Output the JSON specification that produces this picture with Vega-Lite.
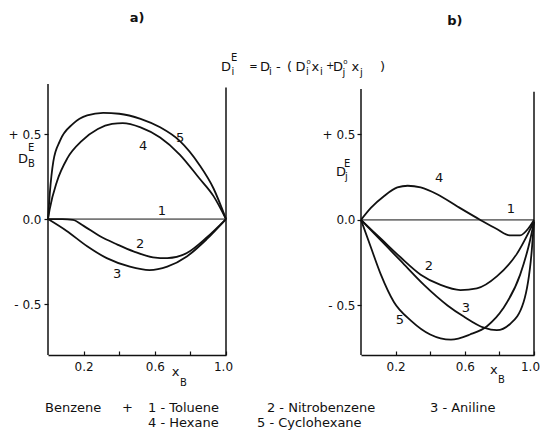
{
  "$schema": "https://vega.github.io/schema/vega-lite/v6.json",
  "background": "white",
  "padding": {"left": 8, "top": 12, "right": 0, "bottom": 0},
  "bounds": "flush",
  "spacing": 135,
  "config": {
    "view": {"stroke": null},
    "font": "DejaVu Sans",
    "axis": {"labelFont": "DejaVu Sans", "labelFontSize": 12, "labelColor": "#111", "tickColor": "#111", "domainColor": "#111", "domainWidth": 1.5, "tickWidth": 1.2, "grid": false, "title": null, "labelFlush": false, "labelOverlap": false}
  },
  "datasets": {
    "one": [{}],
    "curvesA": [
      {"curve": "1", "x": 0, "y": 0}, {"curve": "1", "x": 1, "y": 0},
      {"curve": "2", "x": 0, "y": 0}, {"curve": "2", "x": 0.08, "y": 0}, {"curve": "2", "x": 0.14, "y": -0.005}, {"curve": "2", "x": 0.2, "y": -0.04}, {"curve": "2", "x": 0.29, "y": -0.1}, {"curve": "2", "x": 0.39, "y": -0.15}, {"curve": "2", "x": 0.48, "y": -0.19}, {"curve": "2", "x": 0.59, "y": -0.225}, {"curve": "2", "x": 0.67, "y": -0.23}, {"curve": "2", "x": 0.78, "y": -0.2}, {"curve": "2", "x": 0.89, "y": -0.11}, {"curve": "2", "x": 1, "y": 0},
      {"curve": "3", "x": 0, "y": 0}, {"curve": "3", "x": 0.105, "y": -0.07}, {"curve": "3", "x": 0.22, "y": -0.16}, {"curve": "3", "x": 0.33, "y": -0.23}, {"curve": "3", "x": 0.46, "y": -0.28}, {"curve": "3", "x": 0.57, "y": -0.3}, {"curve": "3", "x": 0.67, "y": -0.28}, {"curve": "3", "x": 0.78, "y": -0.22}, {"curve": "3", "x": 0.89, "y": -0.12}, {"curve": "3", "x": 1, "y": 0},
      {"curve": "4", "x": 0, "y": 0}, {"curve": "4", "x": 0.01, "y": 0.06}, {"curve": "4", "x": 0.05, "y": 0.22}, {"curve": "4", "x": 0.11, "y": 0.36}, {"curve": "4", "x": 0.19, "y": 0.46}, {"curve": "4", "x": 0.28, "y": 0.53}, {"curve": "4", "x": 0.36, "y": 0.56}, {"curve": "4", "x": 0.42, "y": 0.565}, {"curve": "4", "x": 0.52, "y": 0.54}, {"curve": "4", "x": 0.63, "y": 0.48}, {"curve": "4", "x": 0.74, "y": 0.38}, {"curve": "4", "x": 0.85, "y": 0.24}, {"curve": "4", "x": 0.93, "y": 0.135}, {"curve": "4", "x": 1, "y": 0},
      {"curve": "5", "x": 0, "y": 0}, {"curve": "5", "x": 0.01, "y": 0.15}, {"curve": "5", "x": 0.03, "y": 0.34}, {"curve": "5", "x": 0.067, "y": 0.46}, {"curve": "5", "x": 0.14, "y": 0.56}, {"curve": "5", "x": 0.22, "y": 0.61}, {"curve": "5", "x": 0.31, "y": 0.625}, {"curve": "5", "x": 0.4, "y": 0.62}, {"curve": "5", "x": 0.52, "y": 0.59}, {"curve": "5", "x": 0.63, "y": 0.54}, {"curve": "5", "x": 0.74, "y": 0.46}, {"curve": "5", "x": 0.85, "y": 0.32}, {"curve": "5", "x": 0.93, "y": 0.18}, {"curve": "5", "x": 1, "y": 0}
    ],
    "curvesB": [
      {"curve": "1", "x": 0, "y": 0}, {"curve": "1", "x": 1, "y": 0},
      {"curve": "2", "x": 0, "y": 0}, {"curve": "2", "x": 0.115, "y": -0.11}, {"curve": "2", "x": 0.23, "y": -0.22}, {"curve": "2", "x": 0.345, "y": -0.32}, {"curve": "2", "x": 0.46, "y": -0.38}, {"curve": "2", "x": 0.575, "y": -0.41}, {"curve": "2", "x": 0.67, "y": -0.4}, {"curve": "2", "x": 0.785, "y": -0.33}, {"curve": "2", "x": 0.9, "y": -0.2}, {"curve": "2", "x": 1, "y": -0.01},
      {"curve": "3", "x": 0, "y": 0}, {"curve": "3", "x": 0.115, "y": -0.12}, {"curve": "3", "x": 0.23, "y": -0.24}, {"curve": "3", "x": 0.364, "y": -0.38}, {"curve": "3", "x": 0.5, "y": -0.5}, {"curve": "3", "x": 0.594, "y": -0.565}, {"curve": "3", "x": 0.71, "y": -0.63}, {"curve": "3", "x": 0.785, "y": -0.645}, {"curve": "3", "x": 0.86, "y": -0.61}, {"curve": "3", "x": 0.94, "y": -0.48}, {"curve": "3", "x": 0.987, "y": -0.18}, {"curve": "3", "x": 1, "y": -0.01},
      {"curve": "4", "x": 0, "y": 0}, {"curve": "4", "x": 0.057, "y": 0.07}, {"curve": "4", "x": 0.134, "y": 0.14}, {"curve": "4", "x": 0.21, "y": 0.19}, {"curve": "4", "x": 0.27, "y": 0.2}, {"curve": "4", "x": 0.345, "y": 0.19}, {"curve": "4", "x": 0.44, "y": 0.15}, {"curve": "4", "x": 0.555, "y": 0.08}, {"curve": "4", "x": 0.69, "y": 0}, {"curve": "4", "x": 0.785, "y": -0.053}, {"curve": "4", "x": 0.86, "y": -0.09}, {"curve": "4", "x": 0.92, "y": -0.09}, {"curve": "4", "x": 0.967, "y": -0.05}, {"curve": "4", "x": 1, "y": 0},
      {"curve": "5", "x": 0, "y": 0}, {"curve": "5", "x": 0.057, "y": -0.16}, {"curve": "5", "x": 0.115, "y": -0.32}, {"curve": "5", "x": 0.19, "y": -0.48}, {"curve": "5", "x": 0.29, "y": -0.59}, {"curve": "5", "x": 0.4, "y": -0.67}, {"curve": "5", "x": 0.52, "y": -0.7}, {"curve": "5", "x": 0.63, "y": -0.67}, {"curve": "5", "x": 0.73, "y": -0.62}, {"curve": "5", "x": 0.82, "y": -0.52}, {"curve": "5", "x": 0.92, "y": -0.32}, {"curve": "5", "x": 0.977, "y": -0.12}, {"curve": "5", "x": 1, "y": -0.01}
    ],
    "curveLabelsA": [
      {"t": "5", "x": 0.742, "y": 0.477}, {"t": "4", "x": 0.534, "y": 0.43}, {"t": "1", "x": 0.64, "y": 0.047}, {"t": "2", "x": 0.517, "y": -0.147}, {"t": "3", "x": 0.388, "y": -0.324}
    ],
    "curveLabelsB": [
      {"t": "4", "x": 0.451, "y": 0.246}, {"t": "1", "x": 0.867, "y": 0.064}, {"t": "2", "x": 0.393, "y": -0.269}, {"t": "3", "x": 0.607, "y": -0.515}, {"t": "5", "x": 0.225, "y": -0.585}
    ],
    "panelA": [{"t": "a)", "x": 0.5, "y": 1.183}],
    "panelB": [{"t": "b)", "x": 0.543, "y": 1.164}],
    "mainA": [
      {"t": "D", "x": 0.972, "y": 0.871}, {"t": "D", "x": 1.191, "y": 0.871}, {"t": "-", "x": 1.281, "y": 0.871}, {"t": "(", "x": 1.343, "y": 0.871}, {"t": "D", "x": 1.391, "y": 0.871}, {"t": "x", "x": 1.48, "y": 0.871}, {"t": "D", "x": 1.601, "y": 0.871}, {"t": "x", "x": 1.705, "y": 0.871}, {"t": ")", "x": 1.865, "y": 0.871},
      {"t": "D", "x": -0.169, "y": 0.33}, {"t": "x", "x": 0.695, "y": -0.924}
    ],
    "scriptA": [
      {"t": "=", "x": 1.13, "y": 0.877},
      {"t": "E", "x": 1.028, "y": 0.93}, {"t": "i", "x": 1.031, "y": 0.848}, {"t": "i", "x": 1.242, "y": 0.848}, {"t": "i", "x": 1.449, "y": 0.848}, {"t": "i", "x": 1.528, "y": 0.848}, {"t": "+", "x": 1.562, "y": 0.883}, {"t": "j", "x": 1.654, "y": 0.842}, {"t": "j", "x": 1.753, "y": 0.842},
      {"t": "E", "x": -0.112, "y": 0.4}, {"t": "B", "x": -0.112, "y": 0.306}, {"t": "B", "x": 0.742, "y": -0.983}
    ],
    "tinyA": [
      {"t": "o", "x": 1.452, "y": 0.912}, {"t": "o", "x": 1.659, "y": 0.912}
    ],
    "legendA": [
      {"t": "Benzene", "x": -0.017, "y": -1.136}, {"t": "+", "x": 0.416, "y": -1.136}, {"t": "1 - Toluene", "x": 0.562, "y": -1.136}, {"t": "2 - Nitrobenzene", "x": 1.23, "y": -1.136}, {"t": "3 - Aniline", "x": 2.146, "y": -1.136},
      {"t": "4 - Hexane", "x": 0.562, "y": -1.224}, {"t": "5 - Cyclohexane", "x": 1.174, "y": -1.224}
    ],
    "mainB": [
      {"t": "D", "x": -0.145, "y": 0.257}, {"t": "x", "x": 0.746, "y": -0.902}
    ],
    "scriptB": [
      {"t": "E", "x": -0.098, "y": 0.312}, {"t": "j", "x": -0.092, "y": 0.236}, {"t": "B", "x": 0.792, "y": -0.951}
    ]
  },
  "hconcat": [
    {
      "width": 178,
      "height": 271,
      "layer": [
        {
          "data": {"name": "curvesA"},
          "transform": [{"filter": "datum.curve != '1'"}],
          "mark": {"type": "line", "interpolate": "monotone", "strokeWidth": 1.8, "color": "#111"},
          "encoding": {
            "x": {"field": "x", "type": "quantitative", "scale": {"domain": [0, 1], "nice": false, "zero": false},
                  "axis": {"values": [0.2, 0.4, 0.6, 0.8, 1], "tickSize": -4, "labelPadding": 10, "labelOffset": {"condition": {"test": "datum.value == 1", "value": -3}, "value": 0}, "labelExpr": "datum.value == 0.4 || datum.value == 0.8 ? '' : format(datum.value, '.1f')"}},
            "y": {"field": "y", "type": "quantitative", "scale": {"domain": [-0.8, 0.795], "nice": false, "zero": false},
                  "axis": {"values": [-0.5, 0, 0.5], "domain": false, "tickSize": 4, "labelPadding": 3, "labelExpr": "datum.value > 0 ? '+ 0.5' : (datum.value < 0 ? '- 0.5' : '0.0')"}},
            "detail": {"field": "curve"}
          }
        },
        {
          "data": {"name": "curvesA"},
          "transform": [{"filter": "datum.curve == '1'"}],
          "mark": {"type": "line", "strokeWidth": 1, "color": "#111"},
          "encoding": {"x": {"field": "x", "type": "quantitative"}, "y": {"field": "y", "type": "quantitative"}}
        },
        {
          "data": {"name": "one"},
          "mark": {"type": "rule", "color": "#111", "strokeWidth": 1.5},
          "encoding": {"x": {"datum": 0}, "y": {"datum": -0.8}, "y2": {"datum": 0.795}}
        },
        {
          "data": {"name": "one"},
          "mark": {"type": "rule", "color": "#111", "strokeWidth": 1.5},
          "encoding": {"x": {"datum": 1}, "y": {"datum": -0.8}, "y2": {"datum": 0.775}}
        },
        {
          "data": {"name": "panelA"},
          "mark": {"type": "text", "fontSize": 13, "fontWeight": "bold", "color": "#111", "align": "center", "baseline": "middle"},
          "encoding": {"x": {"field": "x", "type": "quantitative"}, "y": {"field": "y", "type": "quantitative"}, "text": {"field": "t"}}
        },
        {
          "data": {"name": "curveLabelsA"},
          "mark": {"type": "text", "fontSize": 13, "color": "#111", "align": "center", "baseline": "middle"},
          "encoding": {"x": {"field": "x", "type": "quantitative"}, "y": {"field": "y", "type": "quantitative"}, "text": {"field": "t"}}
        },
        {
          "data": {"name": "mainA"},
          "mark": {"type": "text", "fontSize": 13, "color": "#111", "align": "left", "baseline": "alphabetic"},
          "encoding": {"x": {"field": "x", "type": "quantitative"}, "y": {"field": "y", "type": "quantitative"}, "text": {"field": "t"}}
        },
        {
          "data": {"name": "scriptA"},
          "mark": {"type": "text", "fontSize": 10, "color": "#111", "align": "left", "baseline": "alphabetic"},
          "encoding": {"x": {"field": "x", "type": "quantitative"}, "y": {"field": "y", "type": "quantitative"}, "text": {"field": "t"}}
        },
        {
          "data": {"name": "tinyA"},
          "mark": {"type": "text", "fontSize": 7, "color": "#111", "align": "left", "baseline": "alphabetic"},
          "encoding": {"x": {"field": "x", "type": "quantitative"}, "y": {"field": "y", "type": "quantitative"}, "text": {"field": "t"}}
        },
        {
          "data": {"name": "legendA"},
          "mark": {"type": "text", "fontSize": 13, "color": "#111", "align": "left", "baseline": "alphabetic"},
          "encoding": {"x": {"field": "x", "type": "quantitative"}, "y": {"field": "y", "type": "quantitative"}, "text": {"field": "t"}}
        }
      ]
    },
    {
      "width": 173,
      "height": 271,
      "layer": [
        {
          "data": {"name": "curvesB"},
          "transform": [{"filter": "datum.curve != '1'"}],
          "mark": {"type": "line", "interpolate": "monotone", "strokeWidth": 1.8, "color": "#111"},
          "encoding": {
            "x": {"field": "x", "type": "quantitative", "scale": {"domain": [0, 1], "nice": false, "zero": false},
                  "axis": {"values": [0.2, 0.4, 0.6, 0.8, 1], "tickSize": -4, "labelPadding": 10, "labelOffset": {"condition": {"test": "datum.value == 1", "value": -4}, "value": 0}, "labelExpr": "datum.value == 0.4 || datum.value == 0.8 ? '' : format(datum.value, '.1f')"}},
            "y": {"field": "y", "type": "quantitative", "scale": {"domain": [-0.79, 0.795], "nice": false, "zero": false},
                  "axis": {"values": [-0.5, 0, 0.5], "domain": false, "tickSize": 4, "labelPadding": 2, "labelExpr": "datum.value > 0 ? '+ 0.5' : (datum.value < 0 ? '- 0.5' : '0.0')"}},
            "detail": {"field": "curve"}
          }
        },
        {
          "data": {"name": "curvesB"},
          "transform": [{"filter": "datum.curve == '1'"}],
          "mark": {"type": "line", "strokeWidth": 1, "color": "#111"},
          "encoding": {"x": {"field": "x", "type": "quantitative"}, "y": {"field": "y", "type": "quantitative"}}
        },
        {
          "data": {"name": "one"},
          "mark": {"type": "rule", "color": "#111", "strokeWidth": 1.5},
          "encoding": {"x": {"datum": 0}, "y": {"datum": -0.79}, "y2": {"datum": 0.766}}
        },
        {
          "data": {"name": "one"},
          "mark": {"type": "rule", "color": "#111", "strokeWidth": 1.5},
          "encoding": {"x": {"datum": 1}, "y": {"datum": -0.79}, "y2": {"datum": 0.75}}
        },
        {
          "data": {"name": "panelB"},
          "mark": {"type": "text", "fontSize": 13, "fontWeight": "bold", "color": "#111", "align": "center", "baseline": "middle"},
          "encoding": {"x": {"field": "x", "type": "quantitative"}, "y": {"field": "y", "type": "quantitative"}, "text": {"field": "t"}}
        },
        {
          "data": {"name": "curveLabelsB"},
          "mark": {"type": "text", "fontSize": 13, "color": "#111", "align": "center", "baseline": "middle"},
          "encoding": {"x": {"field": "x", "type": "quantitative"}, "y": {"field": "y", "type": "quantitative"}, "text": {"field": "t"}}
        },
        {
          "data": {"name": "mainB"},
          "mark": {"type": "text", "fontSize": 13, "color": "#111", "align": "left", "baseline": "alphabetic"},
          "encoding": {"x": {"field": "x", "type": "quantitative"}, "y": {"field": "y", "type": "quantitative"}, "text": {"field": "t"}}
        },
        {
          "data": {"name": "scriptB"},
          "mark": {"type": "text", "fontSize": 10, "color": "#111", "align": "left", "baseline": "alphabetic"},
          "encoding": {"x": {"field": "x", "type": "quantitative"}, "y": {"field": "y", "type": "quantitative"}, "text": {"field": "t"}}
        }
      ]
    }
  ]
}
